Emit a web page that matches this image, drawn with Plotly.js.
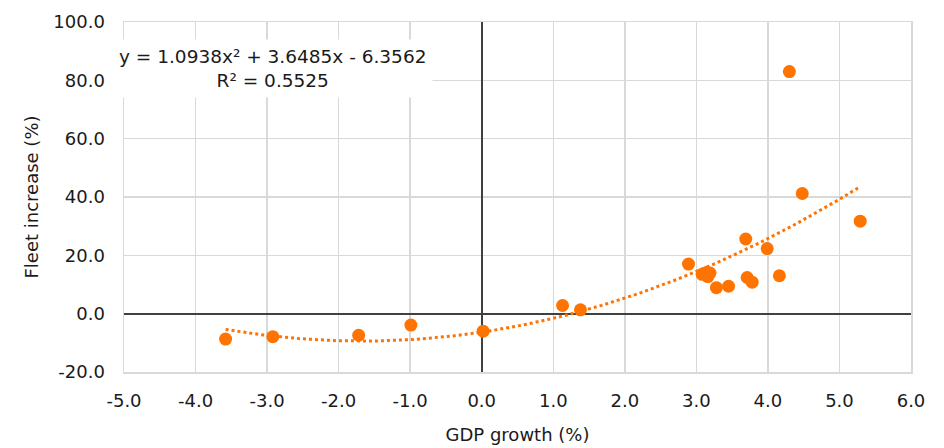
<!DOCTYPE html>
<html>
<head>
<meta charset="utf-8">
<script src="https://cdn.plot.ly/plotly-3.0.1.min.js"></script>
<style>html,body{margin:0;padding:0;background:#fff;}#chart{width:944px;height:448px;}</style>
</head>
<body>
<div id="chart"></div>
<script>
// GDP growth (%) and fleet increase (%)
var gdpGrowth = [-3.58, -2.92, -1.72, -0.99, 0.02, 1.13, 1.38, 2.89, 3.08, 3.15, 3.19, 3.16, 3.28, 3.45, 3.69, 3.71, 3.78, 3.99, 4.16, 4.30, 4.48, 5.29];
var fleetIncrease = [-8.7, -7.9, -7.4, -3.9, -6.0, 2.8, 1.3, 17.0, 13.5, 14.2, 13.9, 12.7, 8.9, 9.4, 25.6, 12.4, 10.8, 22.3, 13.0, 83.0, 41.2, 31.7];

// Polynomial trendline coefficients shown on the chart (a x^2 + b x + c)
var trendCoefs = [1.0938, 3.6485, -6.3562];
var trendLabel = ['y = 1.0938x\u00B2 + 3.6485x - 6.3562', 'R\u00B2 = 0.5525'];

var xTicks = [-5, -4, -3, -2, -1, 0, 1, 2, 3, 4, 5, 6];
var yTicks = [-20, 0, 20, 40, 60, 80, 100];

// trendline evaluated over the data range
var xMin = Math.min.apply(null, gdpGrowth), xMax = Math.max.apply(null, gdpGrowth);
var tx = [], ty = [];
var n = 200;
for (var i = 0; i <= n; i++) {
  var x = xMin + (xMax - xMin) * i / n;
  tx.push(x);
  ty.push(trendCoefs[0] * x * x + trendCoefs[1] * x + trendCoefs[2]);
}

var orange = '#ff7300';
var font = 'DejaVu Sans, Verdana, sans-serif';
var txt = '#1a1a1a';

var data = [
  {x: tx, y: ty, type: 'scatter', mode: 'lines',
   line: {color: orange, width: 3, dash: 'dot'}, hoverinfo: 'skip', showlegend: false},
  {x: gdpGrowth, y: fleetIncrease, type: 'scatter', mode: 'markers',
   marker: {color: orange, size: 13}, showlegend: false}
];

var layout = {
  width: 944, height: 448,
  margin: {l: 124, r: 33, t: 22, b: 76},
  paper_bgcolor: '#fff', plot_bgcolor: '#fff',
  font: {family: font, size: 18, color: txt},
  xaxis: {
    range: [-5, 6], tickvals: xTicks, ticktext: xTicks.map(function(v){return v.toFixed(1);}),
    showgrid: true, gridcolor: '#d9d9d9', gridwidth: 1.5,
    zeroline: true, zerolinecolor: '#404040', zerolinewidth: 2,
    showline: true, mirror: true, linecolor: '#d9d9d9', linewidth: 1.5,
    ticks: '', ticklabelstandoff: 12,
    title: {text: 'GDP growth (%)', font: {family: font, size: 18, color: txt}, standoff: 18},
    fixedrange: true
  },
  yaxis: {
    range: [-20, 100], tickvals: yTicks, ticktext: yTicks.map(function(v){return v.toFixed(1);}),
    showgrid: true, gridcolor: '#d9d9d9', gridwidth: 1.5,
    zeroline: true, zerolinecolor: '#404040', zerolinewidth: 2,
    showline: true, mirror: true, linecolor: '#d9d9d9', linewidth: 1.5,
    ticks: '', ticklabelstandoff: 14,
    title: {text: 'Fleet increase (%)', font: {family: font, size: 18, color: txt}, standoff: 10},
    fixedrange: true
  },
  annotations: [{
    xref: 'paper', yref: 'paper', x: 0.1887, y: 0.866,
    xanchor: 'center', yanchor: 'middle',
    text: trendLabel.join('<br>'), showarrow: false, align: 'center',
    bgcolor: '#ffffff', borderpad: 6,
    font: {family: font, size: 18.5, color: txt}
  }]
};

Plotly.newPlot('chart', data, layout, {displayModeBar: false, staticPlot: true});
</script>
</body>
</html>
